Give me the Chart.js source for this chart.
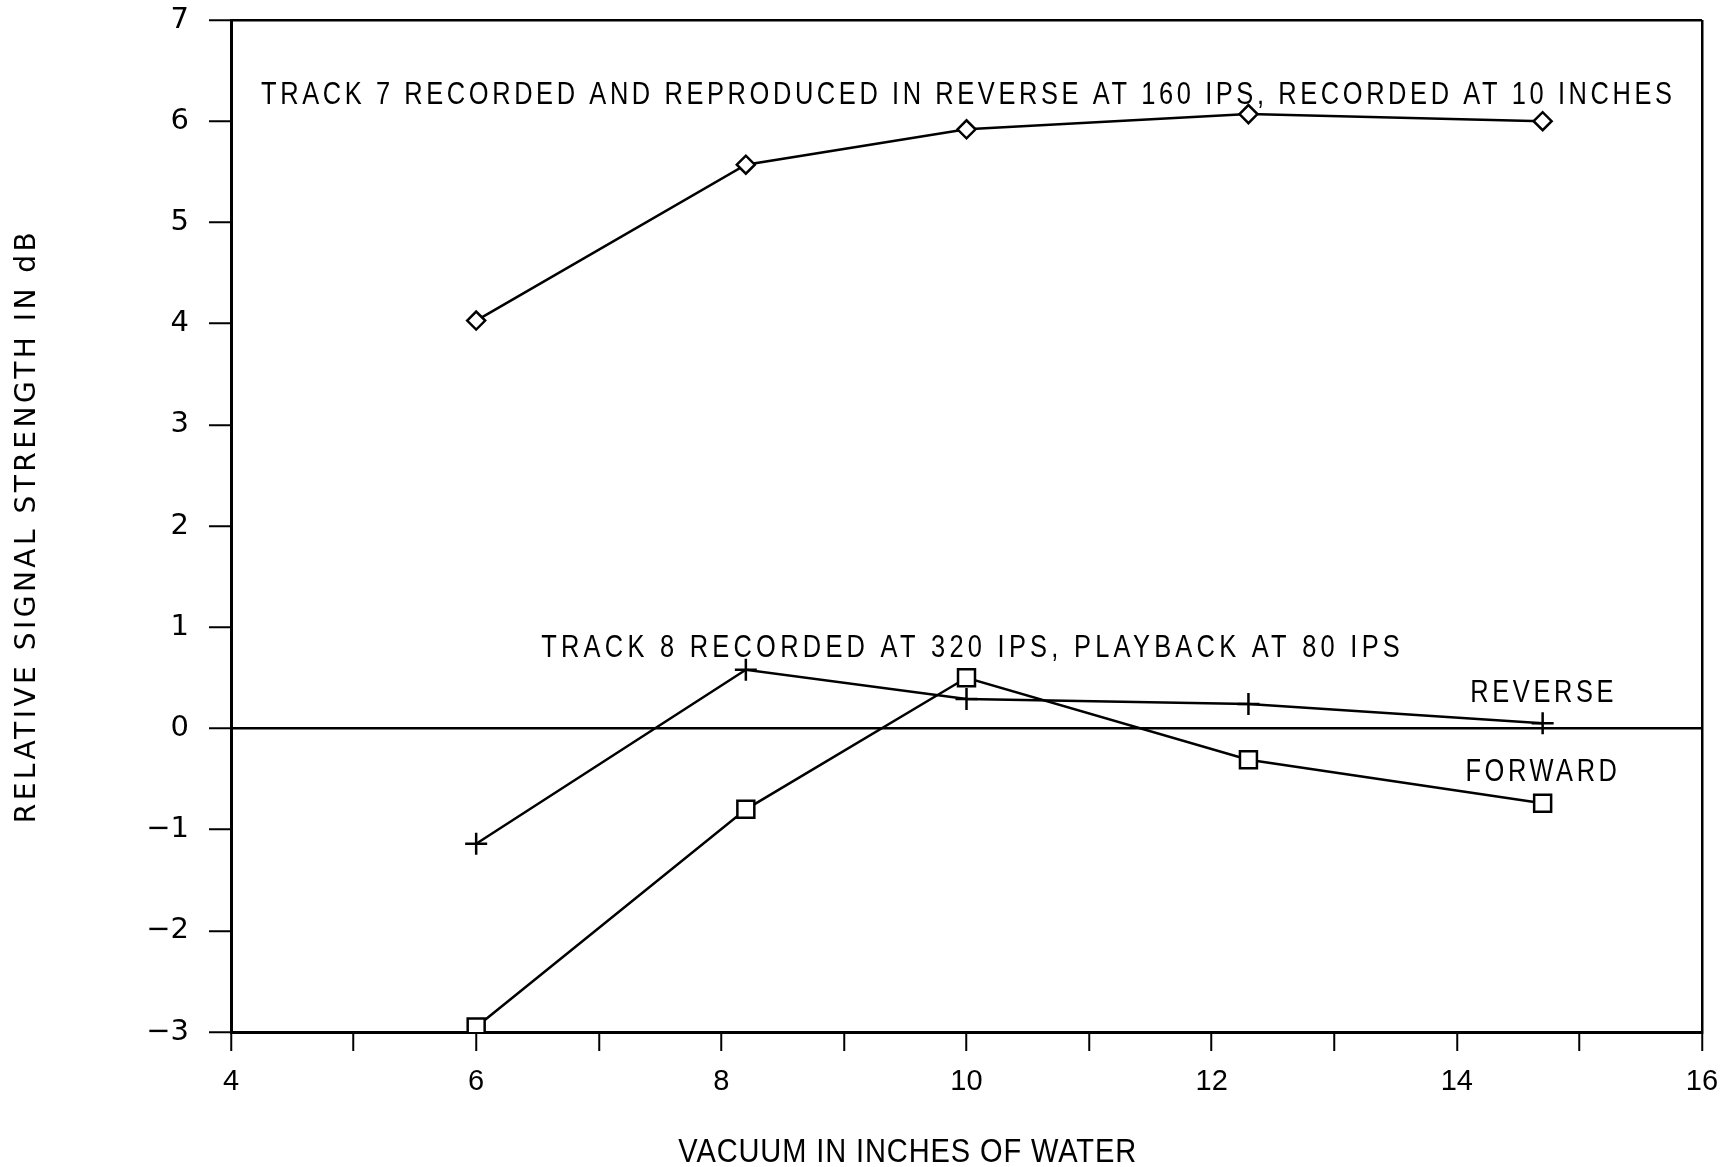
<!DOCTYPE html>
<html>
<head>
<meta charset="utf-8">
<script src="https://cdn.jsdelivr.net/npm/chart.js@4"></script>
<style>
  html, body { margin: 0; padding: 0; background: #fff; }
  #wrap { width: 1725px; height: 1167px; }
</style>
</head>
<body>
<div id="wrap"><canvas id="chart"></canvas></div>
<script>
// Vacuum settings (inches of water)
const vacuum = [6, 8.2, 10, 12.3, 14.7];

// Relative signal strength (dB)
const track7 = [4.03, 5.57, 5.92, 6.07, 6.0];
const track8Reverse = [-1.14, 0.58, 0.29, 0.24, 0.05];
const track8Forward = [-2.95, -0.8, 0.5, -0.31, -0.74];

// Axis ranges
const xMin = 4, xMax = 16;
const yMin = -3, yMax = 7;

// Axis titles
const xTitle = 'VACUUM IN INCHES OF WATER';
const yTitle = 'RELATIVE SIGNAL STRENGTH IN dB';

// Text written inside the plot
const noteText = [
  'TRACK 7 RECORDED AND REPRODUCED IN REVERSE AT 160 IPS, RECORDED AT 10 INCHES',
  'TRACK 8 RECORDED AT 320 IPS, PLAYBACK AT 80 IPS',
  'REVERSE',
  'FORWARD'
];
const noteX = [4.245, 6.53, 14.11, 14.07];
const noteY = [6.25, 0.79, 0.35, -0.44];

function toPoints(ys) {
  return vacuum.map((v, i) => ({ x: v, y: ys[i] }));
}

// Tulis teks dengan huruf dipersempit dan jarak antar huruf
function drawText(ctx, text, x, y, font, scaleX, spacing, align, rotation) {
  ctx.save();
  ctx.translate(x, y);
  if (rotation) ctx.rotate(rotation);
  ctx.scale(scaleX, 1);
  ctx.font = font;
  ctx.letterSpacing = spacing + 'px';
  ctx.textBaseline = 'middle';
  ctx.fillStyle = '#000';
  let w = ctx.measureText(text).width;
  let start = 0;
  if (align === 'center') start = -w / 2;
  ctx.textAlign = 'left';
  ctx.fillText(text, start, 0);
  ctx.restore();
}

// Plugin untuk keterangan dan judul sumbu
const notesPlugin = {
  id: 'notes',
  afterDraw(chart) {
    const ctx = chart.ctx;
    const xs = chart.scales.x, ys = chart.scales.y;
    noteText.forEach((t, i) => {
      drawText(ctx, t, xs.getPixelForValue(noteX[i]), ys.getPixelForValue(noteY[i]),
        '31px "Liberation Sans"', 0.82, i === 1 ? 5.2 : 4.4, 'left', 0);
    });
    // judul sumbu x
    drawText(ctx, xTitle, xs.getPixelForValue(9.52), 1153,
      '33px "Liberation Sans"', 0.88, 1, 'center', 0);
    // judul sumbu y
    const area = chart.chartArea;
    drawText(ctx, yTitle, 28, (area.top + area.bottom) / 2,
      '28px "DejaVu Sans"', 1, 3.5, 'center', -Math.PI / 2);
  }
};

const lineStyle = {
  borderColor: '#000',
  borderWidth: 2.5,
  pointBorderColor: '#000',
  pointBackgroundColor: '#fff',
  pointBorderWidth: 2.5,
  tension: 0,
  fill: false
};

new Chart(document.getElementById('chart').getContext('2d'), {
  type: 'line',
  data: {
    datasets: [
      Object.assign({ label: 'Track 7', data: toPoints(track7), pointStyle: 'rectRot', pointRadius: 9 }, lineStyle),
      Object.assign({ label: 'Reverse', data: toPoints(track8Reverse), pointStyle: 'cross', pointRadius: 11 }, lineStyle),
      Object.assign({ label: 'Forward', data: toPoints(track8Forward), pointStyle: 'rect', pointRadius: 12 }, lineStyle)
    ]
  },
  options: {
    responsive: true,
    maintainAspectRatio: false,
    animation: false,
    layout: { padding: { left: 0, right: 23, top: 20, bottom: 0 } },
    plugins: {
      legend: { display: false },
      tooltip: { enabled: false }
    },
    scales: {
      x: {
        type: 'linear',
        min: xMin,
        max: xMax,
        border: { display: true, color: '#000', width: 3 },
        grid: {
          drawOnChartArea: true,
          color: (c) => (c.tick && c.tick.value === xMax ? '#000' : 'rgba(0,0,0,0)'),
          lineWidth: 2.5,
          tickColor: '#000',
          tickLength: 19,
          tickWidth: 2
        },
        ticks: {
          stepSize: 1,
          color: '#000',
          padding: 14,
          maxRotation: 0,
          autoSkip: false,
          font: { family: 'Liberation Sans', size: 29 },
          callback: (v) => (v % 2 === 0 ? String(v) : '')
        },
        title: { display: false },
        afterFit: (scale) => {
          scale.height = 135;
          scale.paddingLeft = 0;
          scale.paddingRight = 0;
        }
      },
      y: {
        type: 'linear',
        min: yMin,
        max: yMax,
        border: { display: true, color: '#000', width: 3 },
        grid: {
          drawOnChartArea: true,
          color: (c) => (c.tick && (c.tick.value === 0 || c.tick.value === yMax) ? '#000' : 'rgba(0,0,0,0)'),
          lineWidth: 2.5,
          tickColor: '#000',
          tickLength: 22,
          tickWidth: 2
        },
        ticks: {
          stepSize: 1,
          color: '#000',
          padding: 20,
          font: { family: 'DejaVu Sans', size: 29 },
          callback: (v) => (v < 0 ? '\u2212' + Math.abs(v) : String(v))
        },
        title: { display: false },
        afterFit: (scale) => {
          scale.width = 231;
          scale.paddingTop = 0;
          scale.paddingBottom = 0;
        }
      }
    }
  },
  plugins: [notesPlugin]
});
</script>
</body>
</html>
